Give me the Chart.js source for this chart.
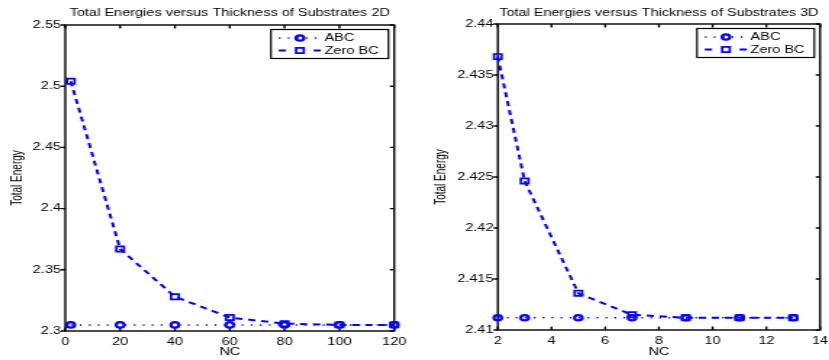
<!DOCTYPE html>
<html>
<head>
<meta charset="utf-8">
<script src="https://cdn.jsdelivr.net/npm/chart.js@4.4.1/dist/chart.umd.min.js"></script>
<style>
html, body { margin: 0; padding: 0; background: #fff; overflow: hidden; }
.wrap { position: absolute; top: 0; width: 286px; height: 360px; transform-origin: 0 0; }
</style>
</head>
<body>
<div class="wrap" style="left:0; transform:scaleX(1.451);"><canvas id="graphOne"></canvas></div>
<div class="wrap" style="left:415px; transform:scaleX(1.4476);"><canvas id="graphTwo"></canvas></div>
<script>
// 2D substrate
const nc2D = [2, 20, 40, 60, 80, 100, 120];
const abc2D = [2.305, 2.305, 2.305, 2.305, 2.305, 2.305, 2.305];
const zero2D = [2.504, 2.367, 2.328, 2.311, 2.306, 2.305, 2.305];
const xTicks2D = [0, 20, 40, 60, 80, 100, 120];
const yTicks2D = [2.3, 2.35, 2.4, 2.45, 2.5, 2.55];

// 3D substrate
const nc3D = [2, 3, 5, 7, 9, 11, 13];
const abc3D = [2.4112, 2.4112, 2.4112, 2.4112, 2.4112, 2.4112, 2.4112];
const zero3D = [2.4368, 2.4246, 2.4136, 2.4115, 2.4112, 2.4112, 2.4112];
const xTicks3D = [2, 4, 6, 8, 10, 12, 14];
const yTicks3D = [2.41, 2.415, 2.42, 2.425, 2.43, 2.435, 2.44];

Chart.defaults.font.family = "'Liberation Sans', Arial, sans-serif";
Chart.defaults.font.size = 10;
Chart.defaults.color = '#000';

// matlab style box, inward ticks, title and legend
const matlabAxes = {
	id: 'matlabAxes',
	beforeDatasetsDraw(chart) {
		const {ctx, chartArea: a, scales: {x, y}} = chart;
		ctx.save();
		ctx.strokeStyle = '#000';
		ctx.lineWidth = 1.4;
		ctx.strokeRect(a.left, a.top, a.right - a.left, a.bottom - a.top);
		ctx.beginPath();
		x.ticks.forEach(t => {
			const px = x.getPixelForValue(t.value);
			ctx.moveTo(px, a.bottom); ctx.lineTo(px, a.bottom - 3.5);
			ctx.moveTo(px, a.top); ctx.lineTo(px, a.top + 3.5);
		});
		y.ticks.forEach(t => {
			const py = y.getPixelForValue(t.value);
			ctx.moveTo(a.left, py); ctx.lineTo(a.left - 3, py);
			ctx.moveTo(a.right, py); ctx.lineTo(a.right - 3, py);
		});
		ctx.stroke();
		ctx.restore();
	},
	afterDraw(chart, args, opts) {
		const {ctx, chartArea: a} = chart;
		ctx.save();
		ctx.font = "10px 'Liberation Sans', Arial, sans-serif";
		ctx.fillStyle = '#000';
		ctx.textAlign = 'center';
		ctx.textBaseline = 'alphabetic';
		ctx.fillText(opts.title, (a.left + a.right) / 2, 15.5);

		// legend box
		const w = 81, h = 29;
		const lx = a.right - 4 - w, ly = a.top + 4.5;
		ctx.fillStyle = '#fff';
		ctx.fillRect(lx, ly, w, h);
		ctx.strokeStyle = '#000';
		ctx.lineWidth = 1.2;
		ctx.strokeRect(lx, ly, w, h);
		chart.data.datasets.forEach((ds, i) => {
			const yy = ly + 8.5 + i * 12.5;
			ctx.strokeStyle = ds.borderColor;
			ctx.lineWidth = ds.borderWidth;
			ctx.beginPath();
			if (ds.borderDash[0] > 2) {
				ctx.moveTo(lx + 5.4, yy); ctx.lineTo(lx + 10.4, yy);
				ctx.moveTo(lx + 29.4, yy); ctx.lineTo(lx + 34.4, yy);
			} else {
				ctx.setLineDash(ds.borderDash);
				ctx.moveTo(lx + 5.4, yy); ctx.lineTo(lx + 34.4, yy);
			}
			ctx.stroke();
			ctx.setLineDash([]);
			ctx.lineWidth = ds.pointBorderWidth;
			ctx.beginPath();
			const mx = lx + 20;
			if (ds.pointStyle === 'circle') {
				ctx.arc(mx, yy, ds.pointRadius, 0, Math.PI * 2);
			} else {
				const s = Math.SQRT1_2 * ds.pointRadius;
				ctx.rect(mx - s, yy - s, 2 * s, 2 * s);
			}
			ctx.stroke();
			ctx.fillStyle = '#000';
			ctx.textAlign = 'left';
			ctx.textBaseline = 'middle';
			ctx.fillText(ds.label, lx + 37, yy + 0.5);
		});
		ctx.restore();
	}
};

function energyChart(id, title, nc, abc, zero, xTicks, yTicks, yWidth, titlePad, pad) {
	return new Chart(document.getElementById(id), {
		type: 'line',
		data: {
			datasets: [{
				label: 'ABC',
				data: nc.map((v, i) => ({x: v, y: abc[i]})),
				borderColor: '#0000ff',
				borderWidth: 1.5,
				borderDash: [1.2, 5],
				pointStyle: 'circle',
				pointRadius: 2.7,
				pointBorderWidth: 2.2,
				pointBackgroundColor: 'rgba(0,0,0,0)',
				pointBorderColor: '#0000ff',
				tension: 0,
				clip: false
			}, {
				label: 'Zero BC',
				data: nc.map((v, i) => ({x: v, y: zero[i]})),
				borderColor: '#0000ff',
				borderWidth: 2,
				borderDash: [5, 4],
				pointStyle: 'rect',
				pointRadius: 3.7,
				pointBorderWidth: 1.7,
				pointBackgroundColor: 'rgba(0,0,0,0)',
				pointBorderColor: '#0000ff',
				tension: 0,
				clip: false
			}]
		},
		options: {
			responsive: true,
			maintainAspectRatio: false,
			animation: false,
			layout: {
				padding: pad
			},
			scales: {
				x: {
					type: 'linear',
					min: xTicks[0],
					max: xTicks[xTicks.length - 1],
					afterBuildTicks: s => { s.ticks = xTicks.map(v => ({value: v})); },
					afterFit: s => { s.height = 360 - pad.top - 306; s.paddingLeft = 0; s.paddingRight = 0; },
					grid: { display: false, drawTicks: false },
					border: { display: false },
					ticks: { padding: 5, maxRotation: 0, autoSkip: false },
					title: { display: true, text: 'NC', padding: { top: 0, bottom: 2 } }
				},
				y: {
					type: 'linear',
					min: yTicks[0],
					max: yTicks[yTicks.length - 1],
					afterBuildTicks: s => { s.ticks = yTicks.map(v => ({value: v})); },
					afterFit: s => { s.width = yWidth; s.paddingTop = 0; s.paddingBottom = 0; },
					grid: { display: false, drawTicks: false },
					border: { display: false },
					ticks: { padding: 3, callback: v => String(v) },
					title: { display: true, text: 'Total Energy', padding: { top: titlePad, bottom: 0 } }
				}
			},
			plugins: {
				legend: { display: false },
				tooltip: { enabled: false },
				matlabAxes: { title: title }
			}
		},
		plugins: [matlabAxes]
	});
}

energyChart('graphOne', 'Total Energies versus Thickness of Substrates 2D',
	nc2D, abc2D, zero2D, xTicks2D, yTicks2D, 45, 6.4, {top: 25, right: 14.3, bottom: 0, left: 0});

energyChart('graphTwo', 'Total Energies versus Thickness of Substrates 3D',
	nc3D, abc3D, zero3D, xTicks3D, yTicks3D, 57.2, 12, {top: 24, right: 3.9, bottom: 0, left: 0});
</script>
</body>
</html>
